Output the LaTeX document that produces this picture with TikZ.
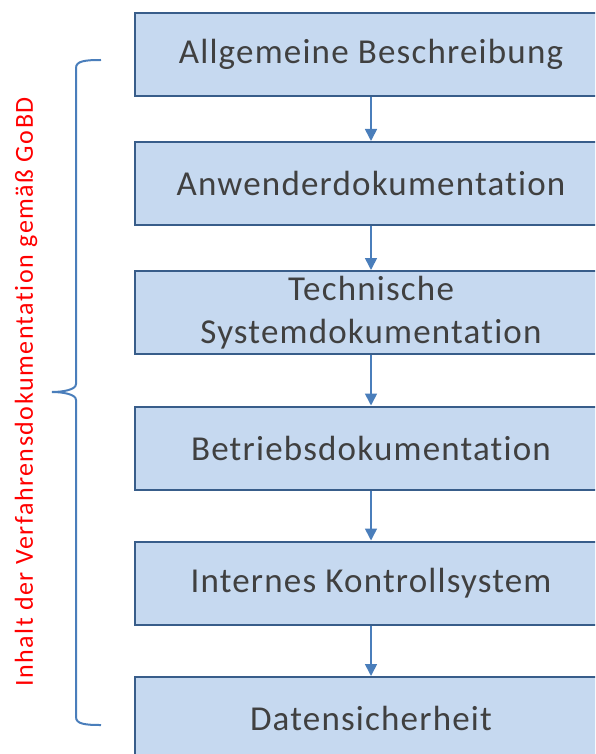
\documentclass[tikz,border=0pt]{standalone}
\usepackage{fontspec}
\setmainfont{Carlito}[Ligatures=NoCommon, LetterSpace=3.4]
\newfontfamily\sidefont{Carlito}[Ligatures=NoCommon, LetterSpace=5.8]
\usetikzlibrary{arrows.meta}
\definecolor{boxfill}{RGB}{198,217,240}
\definecolor{boxline}{RGB}{56,93,138}
\definecolor{flowline}{RGB}{74,126,187}
\definecolor{boxtext}{RGB}{64,64,64}
\tikzset{
  stepbox/.style={draw=boxline, line width=2pt, fill=boxfill, rectangle,
    minimum width=472pt, minimum height=83pt, inner sep=0pt,
    text=boxtext, font=\fontsize{35}{43}\selectfont, align=center},
  flow/.style={draw=flowline, line width=1.6pt,
    -{Triangle[length=12pt,width=12pt]}},
  bracket/.style={draw=flowline, line width=2pt}
}
\begin{document}
\begin{tikzpicture}[x=1pt,y=-1pt]
\useasboundingbox (0,0) rectangle (595,754);
\clip (0,0) rectangle (595,754);
% process steps
\node[stepbox] (b1) at (371,54.5) {Allgemeine Beschreibung};
\node[stepbox] (b2) at (371,183.5) {Anwenderdokumentation};
\node[stepbox] (b3) at (371,312.5) {Technische\\Systemdokumentation};
\node[stepbox] (b4) at (371,448) {Betriebsdokumentation};
\node[stepbox] (b5) at (371,583) {Internes Kontrollsystem};
\node[stepbox] (b6) at (371,718.5) {Datensicherheit};
% connectors
\foreach \a/\b in {b1/b2,b2/b3,b3/b4,b4/b5,b5/b6}
  \draw[flow] (\a.south) -- (\b.north);
% curly bracket grouping all steps
\coordinate (bt) at (101,60);
\coordinate (bb) at (101,725);
\coordinate (tip) at (52,392);
\draw[bracket] (bt) .. controls (85,60) and (76,61) .. (76,68)
  -- (76,384) .. controls (76,390) and (62,392) .. (tip)
  (tip) .. controls (62,392) and (76,394) .. (76,400)
  -- (76,717) .. controls (76,724) and (85,725) .. (bb);
\node[text=red, rotate=90, font=\sidefont\fontsize{26}{31}\selectfont, inner sep=0pt]
  (lbl) at (26,392) {Inhalt der Verfahrensdokumentation gemäß GoBD};
\end{tikzpicture}
\end{document}
